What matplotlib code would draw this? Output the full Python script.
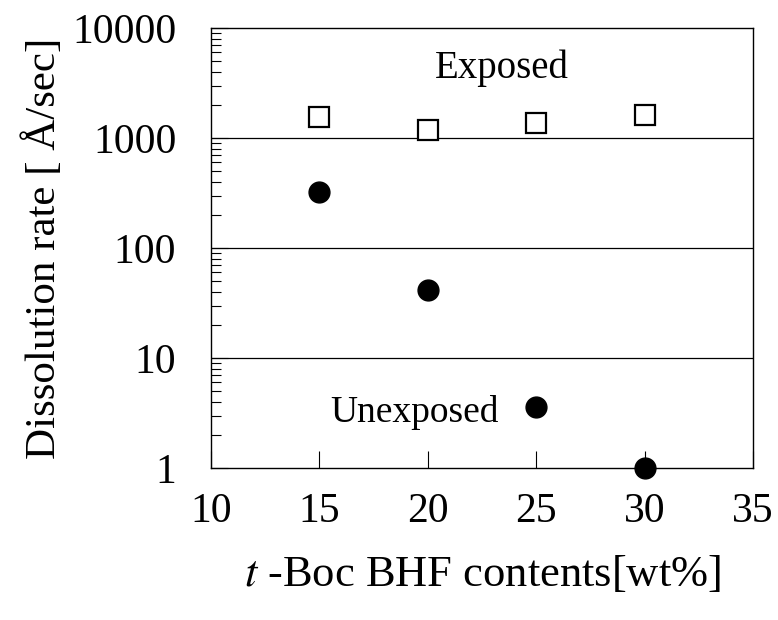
import numpy as np
import matplotlib
matplotlib.use("Agg")
from matplotlib import pyplot as plt
from matplotlib.ticker import LogLocator, FixedLocator, NullFormatter

# Dati
boc_content = [15, 20, 25, 30]
rate_exposed = [1550, 1180, 1380, 1620]
rate_unexposed = [324, 41.5, 3.6, 1.0]
y_ticks = [1, 10, 100, 1000, 10000]
y_tick_labels = ["1", "10", "100", "1000", "10000"]
x_ticks = [10, 15, 20, 25, 30, 35]


def main() -> None:
    plt.rcParams["font.family"] = ["Liberation Serif", "DejaVu Serif"]
    plt.rcParams["mathtext.fontset"] = "stix"

    fig = plt.figure(figsize=(7.78, 6.2), dpi=100)
    ax = fig.add_axes([211 / 778, 1 - 468 / 620, 542 / 778, 440 / 620])

    ax.set_yscale("log")
    ax.set_xlim(10, 35)
    ax.set_ylim(1, 10000)

    # Linee orizzontali alle decadi
    for y in y_ticks[1:-1]:
        ax.axhline(y, color="black", lw=0.9, zorder=1)

    ax.plot(boc_content, rate_exposed, "s", ms=14, mfc="white", mec="black",
            mew=1.6, zorder=3, clip_on=False)
    ax.plot(boc_content, rate_unexposed, "o", ms=15, mfc="black", mec="black",
            zorder=3, clip_on=False)

    ax.text(23.4, 4350, "Exposed", fontsize=28, ha="center", va="center")
    ax.text(19.4, 3.2, "Unexposed", fontsize=27, ha="center", va="center")

    ax.set_yticks(y_ticks)
    ax.set_yticklabels(y_tick_labels)
    ax.yaxis.set_minor_locator(LogLocator(base=10, subs=np.arange(2, 10)))
    ax.yaxis.set_minor_formatter(NullFormatter())
    ax.xaxis.set_major_locator(FixedLocator(x_ticks))

    ax.tick_params(axis="y", which="major", direction="in", length=12,
                   width=0.8, labelsize=30, pad=25)
    ax.tick_params(axis="y", which="minor", direction="in", length=7,
                   width=0.8)
    ax.tick_params(axis="x", which="major", direction="in", length=12,
                   width=0.8, labelsize=30, pad=18)

    for spine in ax.spines.values():
        spine.set_linewidth(1.0)

    ax.set_xlabel("$\\it{t}$ -Boc BHF contents[wt%]", fontsize=32, labelpad=16)
    ax.set_ylabel("Dissolution rate [ Å/sec]", fontsize=31, labelpad=6)

    plt.savefig("out.png", dpi=100)


if __name__ == "__main__":
    main()
